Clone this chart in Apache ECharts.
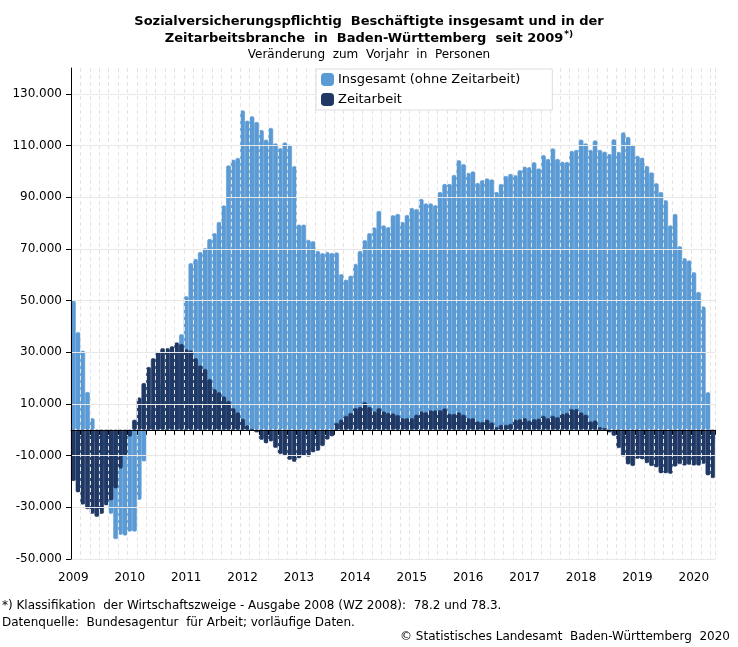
<!DOCTYPE html>
<html><head><meta charset="utf-8">
<script src="https://cdn.jsdelivr.net/npm/echarts@6/dist/echarts.min.js"></script>
<style>html,body{margin:0;padding:0;background:#fff}#c{width:738px;height:647px}</style>
</head><body><div id="c"></div>
<script>
// Categories: monthly, Jan 2009 .. May 2020
const years = ['2009','2010','2011','2012','2013','2014','2015','2016','2017','2018','2019','2020'];
const monthsInLastYear = 5;
const months = [];
years.forEach((y, yi) => {
  const n = yi === years.length - 1 ? monthsInLastYear : 12;
  for (let m = 1; m <= n; m++) months.push(y + '-' + (m < 10 ? '0' + m : m));
});

// Insgesamt (ohne Zeitarbeit) – change vs. previous year
const insgesamt = [
  50000, 37800, 30600, 14600, 4500, -5000, -14000, -23000, -32500, -42300, -40600, -40900,
  -39400, -39400, -27100, -12200, 2000, 8000, 14000, 18000, 22000, 26000, 30000, 37000,
  51700, 64500, 66100, 68800, 70300, 73800, 76100, 80400, 86800, 102300, 104500, 105200,
  123600, 119600, 121300, 119100, 116000, 112300, 116800, 110800, 109000, 111200, 110300, 102000,
  79400, 79400, 73500, 73000, 69200, 68300, 68800, 68400, 68600, 60200, 58100, 59600,
  64200, 69200, 73400, 76100, 78300, 84700, 79100, 78400, 83000, 83500, 80400, 83100,
  85800, 85400, 89300, 87600, 87600, 86900, 92000, 95100, 95100, 98600, 104300, 102800,
  99400, 100000, 95500, 96600, 97300, 96900, 92000, 95100, 98200, 99000, 98500, 100500,
  101800, 101600, 103500, 101100, 106300, 104800, 108900, 104800, 103700, 103600, 107900, 108300,
  112300, 110800, 108300, 112000, 108300, 107600, 106700, 112400, 107500, 115100, 113300, 110200,
  106000, 105300, 102100, 99600, 95400, 92000, 88800, 79100, 83500, 71000, 66400, 65500,
  61000, 53300, 47700, 14500, -5000
];

// Zeitarbeit – change vs. previous year
const zeitarbeit = [
  -19800, -24200, -28900, -30700, -32500, -33700, -32500, -29200, -27300, -22600, -15000, -10000,
  -2600, 3900, 12500, 18100, 24300, 27700, 30100, 31600, 31600, 32300, 33800, 33200,
  31200, 30700, 27700, 24900, 23500, 19600, 15700, 14500, 12900, 11200, 8400, 6700,
  4300, 1700, 300, -1000, -3900, -5200, -4500, -7000, -9400, -9900, -11600, -12400,
  -11000, -10000, -10400, -8700, -8100, -6300, -3800, -2500, 2600, 3900, 5400, 6500,
  8400, 8800, 10700, 8800, 7100, 8400, 7100, 6500, 6300, 5700, 4500, 4500,
  4500, 5800, 7100, 6800, 7500, 7500, 7600, 8300, 6200, 6100, 6700, 5800,
  4500, 4500, 3200, 3000, 3900, 2800, 1000, 1900, 1900, 2300, 3900, 4100,
  4500, 3500, 4100, 4300, 5400, 4500, 5400, 4900, 6100, 6500, 8000, 8000,
  6700, 5800, 3200, 3600, 1000, 600, -1000, -2300, -7100, -10300, -13400, -14000,
  -11200, -11400, -12900, -14000, -14500, -16800, -16800, -17000, -14200, -13300, -13800, -13500,
  -13800, -13800, -13200, -17600, -18700
];

const yTicks = [-50000, -30000, -10000, 10000, 30000, 50000, 70000, 90000, 110000, 130000];
const seriesNames = ['Insgesamt (ohne Zeitarbeit)', 'Zeitarbeit'];
const seriesColors = ['#5b9bd5', '#203864'];
const titleText = 'Sozialversicherungspflichtig  Beschäftigte insgesamt und in der\nZeitarbeitsbranche  in  Baden-Württemberg  seit 2009{sup|*)}';
const subtitleText = 'Veränderung  zum  Vorjahr  in  Personen';
const footnotes = [
  '*) Klassifikation  der Wirtschaftszweige - Ausgabe 2008 (WZ 2008):  78.2 und 78.3.',
  'Datenquelle:  Bundesagentur  für Arbeit; vorläufige Daten.',
  '© Statistisches Landesamt  Baden-Württemberg  2020'
];

const FONT = '"DejaVu Sans", Verdana, sans-serif';
function fmt(v) {
  const s = String(Math.abs(v)).replace(/\B(?=(\d{3})+(?!\d))/g, '.');
  return (v < 0 ? '-' : '') + s;
}

const chart = echarts.init(document.getElementById('c'), null, {renderer: 'canvas'});
chart.setOption({
  animation: false,
  backgroundColor: '#fff',
  title: {
    left: 'center', top: 8, itemGap: 1,
    text: titleText,
    textStyle: {fontFamily: FONT, fontSize: 13, fontWeight: 'bold', color: '#000', lineHeight: 17,
      rich: {sup: {fontFamily: FONT, fontSize: 9, fontWeight: 'bold', color: '#000', verticalAlign: 'top', lineHeight: 17, padding: [0, 0, 6, 1]}}},
    subtext: subtitleText,
    subtextStyle: {fontFamily: FONT, fontSize: 12, color: '#000', lineHeight: 14}
  },
  legend: {
    orient: 'vertical', left: 316, top: 69, z: 20,
    itemWidth: 11, itemHeight: 11, itemGap: 7,
    padding: [4, 32, 4, 5],
    borderColor: '#dddddd', borderWidth: 1, backgroundColor: 'rgba(255,255,255,1)',
    icon: 'roundRect',
    textStyle: {fontFamily: FONT, fontSize: 13, color: '#000'},
    data: seriesNames
  },
  grid: {left: 71, right: 23, top: 68, bottom: 88, containLabel: false},
  xAxis: [
    {
      type: 'category', data: months, position: 'bottom', z: 5,
      axisLine: {show: true, onZero: true, lineStyle: {color: '#000', width: 1}},
      axisTick: {show: true, interval: 1, length: 5, lineStyle: {color: '#000'}},
      axisLabel: {show: false},
      splitLine: {show: true, interval: 1, lineStyle: {color: '#e4e4e4', type: [4, 3], width: 1}}
    },
    {
      type: 'category', data: months, position: 'bottom',
      axisLine: {show: false, onZero: false},
      axisTick: {show: false},
      axisLabel: {show: true, interval: (i) => i % 12 === 0, formatter: (v) => v.slice(0, 4),
        margin: 13, fontFamily: FONT, fontSize: 12, color: '#000'},
      splitLine: {show: false}
    }
  ],
  yAxis: {
    type: 'value', min: -50000, max: 140000, z: 6,
    axisLine: {show: true, onZero: false, lineStyle: {color: '#000', width: 1}},
    axisTick: {show: true, length: 5, customValues: yTicks, lineStyle: {color: '#000'}},
    axisLabel: {customValues: yTicks, formatter: fmt, margin: 9, fontFamily: FONT, fontSize: 12, color: '#000'},
    splitLine: {show: true, lineStyle: {color: '#e8e8e8', width: 1}}
  },
  series: [
    {name: seriesNames[0], type: 'bar', xAxisIndex: 0, data: insgesamt,
     barCategoryGap: '0%', barGap: '-100%',
     itemStyle: {color: seriesColors[0], borderColor: seriesColors[0], borderWidth: 0.6, borderRadius: 1.5}},
    {name: seriesNames[1], type: 'bar', xAxisIndex: 0, data: zeitarbeit,
     barCategoryGap: '0%', barGap: '-100%',
     itemStyle: {color: seriesColors[1], borderColor: seriesColors[1], borderWidth: 0.6, borderRadius: 1.5}}
  ],
  graphic: [
    {type: 'text', left: 2, top: 600, style: {text: footnotes[0], font: '12px ' + FONT, fill: '#000'}},
    {type: 'text', left: 2, top: 617, style: {text: footnotes[1], font: '12px ' + FONT, fill: '#000'}},
    {type: 'text', right: 8, top: 631, style: {text: footnotes[2], font: '12px ' + FONT, fill: '#000'}}
  ]
});
</script>
</body></html>
